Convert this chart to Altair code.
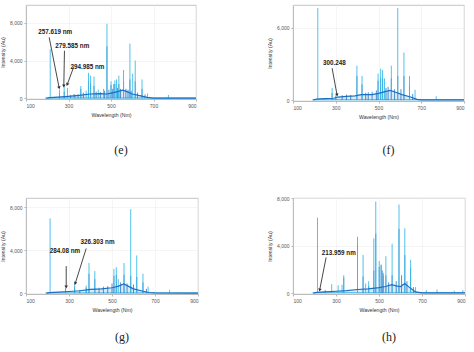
import math
import altair as alt
import pandas as pd

CYAN = "#3dbbe8"
BLUE = "#1a6fc4"

# ---------------- panel (e) ----------------
e_cyan_wl = [213.9, 257.6, 279.6, 295.0, 325, 358, 383, 394, 404, 420, 440, 465, 481, 500, 512, 518, 526, 537, 559, 589, 602, 614, 646, 672, 770]
e_cyan_int = [5200, 900, 1400, 1100, 450, 1300, 800, 2700, 2400, 2300, 900, 1000, 7900, 1800, 1500, 1900, 2000, 2400, 3000, 5800, 2600, 4000, 2000, 500, 350]
e_blue_wl = [257.6, 280, 310, 330, 345, 358, 370, 394, 404, 420, 430, 450, 470, 481, 490, 500, 508, 518, 530, 537, 545, 559, 570, 580, 589, 595, 614, 625, 646, 660]
e_blue_int = [600, 700, 350, 400, 450, 1000, 600, 1800, 1600, 1300, 700, 650, 800, 5500, 900, 1400, 1000, 1500, 1100, 1500, 1000, 1800, 1000, 900, 2000, 800, 1800, 600, 1000, 400]
e_base_wl = [195, 210, 250, 300, 350, 400, 450, 480, 500, 530, 555, 575, 600, 640, 670, 700, 900]
e_base_int = [0, 60, 120, 200, 300, 450, 500, 450, 550, 700, 850, 700, 450, 250, 100, 20, 10]
e_ann_label = ["257.619 nm", "279.585 nm", "294.985 nm"]
e_ann_text_x = [237, 318, 389]
e_ann_text_y = [7010, 5590, 3350]
e_ann_from_x = [209, 281, 324]
e_ann_from_y = [6470, 5040, 3290]
e_ann_tip_x = [256, 278, 294]
e_ann_tip_y = [1100, 1300, 1460]

# ---------------- panel (f) ----------------
f_cyan_wl = [216, 283, 300.2, 399, 423, 498, 510, 519, 528, 560, 590, 619, 645, 671, 770]
f_cyan_int = [7650, 1000, 400, 2850, 2000, 2200, 2600, 2500, 1800, 2850, 7650, 3950, 2000, 850, 320]
f_blue_wl = [283, 300.2, 330, 350, 370, 399, 423, 440, 452, 470, 490, 498, 510, 519, 535, 545, 560, 575, 590, 605, 619, 645, 660]
f_blue_int = [600, 300, 400, 450, 400, 2000, 1300, 600, 650, 700, 800, 1600, 1800, 1800, 1000, 1100, 1800, 900, 2000, 900, 2000, 1200, 500]
f_base_wl = [195, 210, 250, 290, 310, 350, 390, 420, 470, 500, 530, 555, 580, 610, 650, 680, 700, 900]
f_base_int = [0, 80, 120, 150, 250, 300, 350, 450, 450, 550, 700, 800, 650, 450, 250, 60, 20, 10]
f_ann_label = ["300.248"]
f_ann_text_x = [293]
f_ann_text_y = [3070]
f_ann_from_x = [283]
f_ann_from_y = [2650]
f_ann_tip_x = [306]
f_ann_tip_y = [420]

# ---------------- panel (g) ----------------
g_cyan_wl = [212, 284.1, 326.3, 380, 393, 420, 509, 520, 529, 556, 587, 615, 644, 668, 768]
g_cyan_int = [6950, 500, 900, 700, 2800, 2050, 2250, 2400, 1300, 2800, 7800, 3500, 1800, 600, 300]
g_blue_wl = [284, 326, 350, 380, 393, 420, 440, 460, 480, 500, 509, 520, 540, 556, 570, 587, 600, 615, 644, 660]
g_blue_int = [400, 600, 300, 500, 1800, 1300, 500, 600, 650, 900, 1600, 1700, 1000, 1700, 900, 1600, 800, 1500, 1000, 400]
g_base_wl = [195, 210, 250, 300, 350, 400, 450, 500, 530, 555, 575, 600, 640, 670, 700, 900]
g_base_int = [0, 50, 100, 150, 220, 350, 400, 500, 650, 850, 650, 400, 200, 60, 20, 10]
g_ann_label = ["284.08 nm", "326.303 nm"]
g_ann_text_x = [281, 433]
g_ann_text_y = [3900, 4770]
g_ann_from_x = [287, 380]
g_ann_from_y = [2510, 4150]
g_ann_tip_x = [287, 329]
g_ann_tip_y = [560, 900]

# ---------------- panel (h) ----------------
h_cyan_wl = [214.0, 250, 280, 310, 328, 336, 400, 426, 438, 452, 476, 485, 501, 510, 520, 532, 561, 593, 620, 647, 670, 720, 770, 850, 890]
h_cyan_int = [6340, 250, 750, 650, 700, 1500, 4750, 3200, 800, 1000, 4600, 7700, 2700, 2300, 1700, 3100, 4150, 7450, 5450, 2800, 500, 250, 300, 200, 250]
h_blue_wl = [250, 336, 400, 426, 452, 476, 485, 501, 510, 515, 520, 532, 545, 561, 580, 593, 605, 620, 630, 647, 660]
h_blue_int = [200, 1300, 4200, 1400, 600, 1900, 5000, 2200, 2400, 1900, 1500, 1500, 900, 1500, 1000, 5400, 1500, 3200, 1000, 2100, 500]
h_base_wl = [195, 210, 250, 300, 350, 400, 450, 500, 530, 560, 580, 600, 620, 640, 670, 700, 900]
h_base_int = [0, 50, 100, 150, 200, 300, 350, 450, 550, 700, 600, 550, 800, 500, 100, 20, 10]
h_ann_label = ["213.959 nm"]
h_ann_text_x = [313]
h_ann_text_y = [3390]
h_ann_from_x = [254]
h_ann_from_y = [3000]
h_ann_tip_x = [224]
h_ann_tip_y = [250]

X_TICKS = [100, 200, 300, 400, 500, 600, 700, 800, 900]


def panel(cw, ci, bw, bi, basew, basei, al, atx, aty, afx, afy, ax_, ay_,
          ymax, yticks, w, h, caption, cap_offset):
    ymin = -80
    xs = alt.Scale(domain=[100, 900], nice=False)
    ys = alt.Scale(domain=[ymin, ymax], nice=False, zero=False)
    xax = alt.Axis(values=X_TICKS, title="Wavelength (Nm)")
    yax = alt.Axis(values=yticks, format=",.0f", title="Intensity (Au)")

    cyan = pd.DataFrame({"wl": cw, "i": ci, "z": [0] * len(cw)})
    blue = pd.DataFrame({"wl": bw, "i": bi, "z": [0] * len(bw)})
    base = pd.DataFrame({"wl": basew, "i": basei})
    cyan_floor = pd.DataFrame({"wl": [190, 900], "i": [20, 20]})

    kx = w / 800.0
    ky = h / float(ymax - ymin)
    angles = []
    for sx, sy, tx, ty in zip(afx, afy, ax_, ay_):
        dx = (tx - sx) * kx
        dys = -(ty - sy) * ky
        angles.append(math.degrees(math.atan2(dx, -dys)) % 360)
    ann = pd.DataFrame({"label": al, "tx": atx, "ty": aty, "fx": afx,
                        "fy": afy, "px": ax_, "py": ay_, "ang": angles})

    floor_line = alt.Chart(cyan_floor).mark_line(color=CYAN, strokeWidth=1).encode(
        x=alt.X("wl:Q", scale=xs, axis=xax), y=alt.Y("i:Q", scale=ys, axis=yax))
    c_rules = alt.Chart(cyan).mark_rule(color=CYAN, strokeWidth=0.9).encode(
        x="wl:Q", y="z:Q", y2="i:Q")
    b_rules = alt.Chart(blue).mark_rule(color=BLUE, strokeWidth=0.9, opacity=0.85).encode(
        x="wl:Q", y="z:Q", y2="i:Q")
    b_area = alt.Chart(base).mark_area(color=BLUE, opacity=0.15).encode(
        x="wl:Q", y="i:Q")
    b_line = alt.Chart(base).mark_line(color=BLUE, strokeWidth=1.2).encode(
        x="wl:Q", y="i:Q")
    arrows = alt.Chart(ann).mark_rule(color="#333333", strokeWidth=0.9).encode(
        x="fx:Q", y="fy:Q", x2="px:Q", y2="py:Q")
    heads = alt.Chart(ann).mark_point(shape="triangle-up", filled=True, color="#333333",
                                      size=12, opacity=1).encode(
        x="px:Q", y="py:Q", angle=alt.Angle("ang:Q", scale=None))
    texts = alt.Chart(ann).mark_text(fontWeight="bold", fontSize=6.3, color="#1a1a1a",
                                     font="Liberation Sans").encode(
        x="tx:Q", y="ty:Q", text="label:N")

    return alt.layer(floor_line, b_area, b_rules, c_rules, b_line, arrows, heads, texts).properties(
        width=w, height=h,
        title=alt.TitleParams(caption, orient="bottom", font="Liberation Serif",
                              fontSize=12, fontWeight="normal", color="#222222",
                              offset=cap_offset, dx=10))


pe = panel(e_cyan_wl, e_cyan_int, e_blue_wl, e_blue_int, e_base_wl, e_base_int,
           e_ann_label, e_ann_text_x, e_ann_text_y, e_ann_from_x, e_ann_from_y,
           e_ann_tip_x, e_ann_tip_y, 9900, [0, 2000, 4000, 6000, 8000], 170, 94, "(e)", 28)
pf = panel(f_cyan_wl, f_cyan_int, f_blue_wl, f_blue_int, f_base_wl, f_base_int,
           f_ann_label, f_ann_text_x, f_ann_text_y, f_ann_from_x, f_ann_from_y,
           f_ann_tip_x, f_ann_tip_y, 7900, [0, 2000, 4000, 6000], 171, 96, "(f)", 26)
pg = panel(g_cyan_wl, g_cyan_int, g_blue_wl, g_blue_int, g_base_wl, g_base_int,
           g_ann_label, g_ann_text_x, g_ann_text_y, g_ann_from_x, g_ann_from_y,
           g_ann_tip_x, g_ann_tip_y, 8840, [0, 2000, 4000, 6000, 8000], 172, 96, "(g)", 20)
ph = panel(h_cyan_wl, h_cyan_int, h_blue_wl, h_blue_int, h_base_wl, h_base_int,
           h_ann_label, h_ann_text_x, h_ann_text_y, h_ann_from_x, h_ann_from_y,
           h_ann_tip_x, h_ann_tip_y, 8000, [0, 2000, 4000, 6000, 8000], 172, 96, "(h)", 20)

chart = alt.concat(pe, pf, pg, ph, columns=2, spacing={"row": 97, "column": 95},
                   bounds="flush").properties(
    padding={"left": 0, "top": 4, "right": 5, "bottom": 5},
    background="white",
).configure_view(stroke="#b5b5b5", strokeWidth=0.8).configure_axis(
    labelFontSize=5, titleFontSize=5.2, labelFont="Liberation Sans",
    titleFont="Liberation Sans", labelColor="#555555", titleColor="#333333",
    titleFontWeight="normal", gridColor="#eeeeee", gridWidth=0.6,
    domainColor="#b5b5b5", domainWidth=0.8, tickColor="#b5b5b5", tickSize=2,
    labelPadding=2, titlePadding=4,
)

chart.save("out.html", embed_options={"renderer": "svg", "actions": False})
